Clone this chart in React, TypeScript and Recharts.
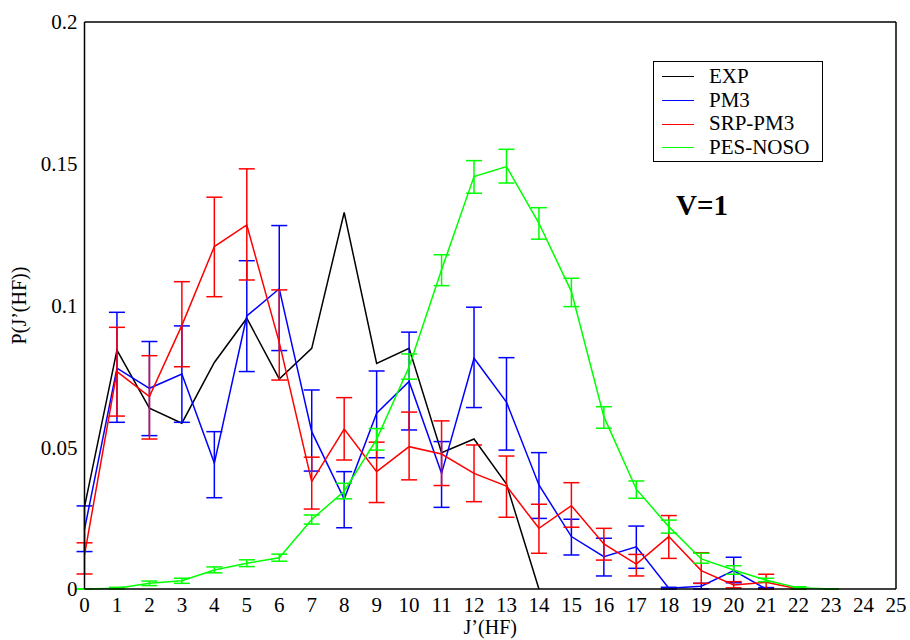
import React from 'react';
import { LineChart, Line, XAxis, YAxis, ErrorBar, ReferenceLine } from 'recharts';

// J'(HF) rotational levels
const J = [0, 1, 2, 3, 4, 5, 6, 7, 8, 9, 10, 11, 12, 13, 14, 15, 16, 17, 18, 19, 20, 21, 22, 23, 24, 25];
const Y_TICKS = [0, 0.05, 0.1, 0.15, 0.2];

const EXP = [0.029, 0.0843, 0.0638, 0.0585, 0.0799, 0.0955, 0.0741, 0.0849, 0.1328, 0.0796, 0.0849, 0.0481, 0.0529, 0.037, 0];

const PM3 = [0.021, 0.0779, 0.0708, 0.0758, 0.0444, 0.0963, 0.1059, 0.0555, 0.0317, 0.062, 0.0732, 0.0408, 0.0814, 0.0659, 0.0367, 0.0185, 0.0114, 0.0149, 0.0003, 0.001, 0.0065, 0];
const PM3_LO = [0.0132, 0.0588, 0.0541, 0.0588, 0.0322, 0.0767, 0.0841, 0.0416, 0.0216, 0.0463, 0.0561, 0.0288, 0.064, 0.049, 0.0249, 0.012, 0.0046, 0.0073, 0, 0, 0.0022, 0];
const PM3_HI = [0.0293, 0.0976, 0.0873, 0.0928, 0.0555, 0.1158, 0.1282, 0.0702, 0.0414, 0.0769, 0.0906, 0.052, 0.0994, 0.0816, 0.0481, 0.0246, 0.0179, 0.0222, 0.0006, 0.002, 0.0112, 0.0005];

const SRP = [0.012, 0.0767, 0.0679, 0.093, 0.1208, 0.1284, 0.087, 0.0379, 0.0564, 0.0414, 0.0502, 0.0476, 0.0408, 0.0363, 0.0214, 0.0294, 0.0159, 0.0088, 0.0185, 0.0065, 0.0014, 0.0024, 0];
const SRP_LO = [0.0053, 0.061, 0.0529, 0.0784, 0.1031, 0.109, 0.0737, 0.0282, 0.0455, 0.0305, 0.0385, 0.0365, 0.0308, 0.0253, 0.0126, 0.0218, 0.0102, 0.0046, 0.0108, 0.002, 0.0004, 0, 0];
const SRP_HI = [0.0163, 0.0923, 0.0823, 0.1084, 0.1382, 0.1482, 0.1055, 0.0465, 0.0675, 0.0518, 0.0624, 0.0593, 0.0508, 0.0469, 0.0299, 0.0375, 0.0214, 0.0122, 0.0259, 0.0128, 0.0026, 0.0052, 0];

const NOSO = [0, 0.0003, 0.002, 0.0029, 0.0067, 0.0091, 0.011, 0.0245, 0.0345, 0.0528, 0.0784, 0.1126, 0.1455, 0.149, 0.129, 0.1049, 0.0608, 0.0352, 0.022, 0.0106, 0.0067, 0.0031, 0.0004, 0];
const NOSO_LO = [0, 0, 0.0012, 0.002, 0.0057, 0.0079, 0.0098, 0.0229, 0.0318, 0.049, 0.074, 0.107, 0.1396, 0.1432, 0.1234, 0.0996, 0.0567, 0.032, 0.0197, 0.0091, 0.0052, 0.0026, 0, 0];
const NOSO_HI = [0, 0.0006, 0.0028, 0.0038, 0.0078, 0.0103, 0.0123, 0.0261, 0.0373, 0.0566, 0.0829, 0.1179, 0.1511, 0.1551, 0.1345, 0.1096, 0.0643, 0.0381, 0.0243, 0.0126, 0.0082, 0.0038, 0.0008, 0];

const FONT = '"Liberation Serif", "Times New Roman", serif';

const SERIES = [
  { name: 'EXP', color: '#000000' },
  { name: 'PM3', color: '#0000ff' },
  { name: 'SRP-PM3', color: '#ff0000' },
  { name: 'PES-NOSO', color: '#00ff00' },
];

const rows = (vals: number[], lo?: number[], hi?: number[]) =>
  vals.map((v, i) => ({
    x: J[i],
    y: v,
    err: lo && hi ? [Math.max(0, v - lo[i]), Math.max(0, hi[i] - v)] : undefined,
  }));

const expRows = rows(EXP);
const pm3Rows = rows(PM3, PM3_LO, PM3_HI);
const srpRows = rows(SRP, SRP_LO, SRP_HI);
const nosoRows = rows(NOSO, NOSO_LO, NOSO_HI);

const App: React.FC = () => {
  const axisStroke = { stroke: '#000', strokeWidth: 1.5 };
  return (
    <div style={{ position: 'absolute', left: 0, top: 0, width: 910, height: 640, background: '#fff', fontFamily: FONT }}>
      <LineChart width={910} height={640} margin={{ top: 22, right: 14, bottom: 0, left: 0 }}>
        <XAxis
          xAxisId="b"
          dataKey="x"
          type="number"
          domain={[0, 25]}
          ticks={J}
          interval={0}
          height={51}
          tickLine={false}
          tickSize={0}
          tickMargin={8}
          axisLine={axisStroke}
          tick={{ fill: '#000', fontSize: 21, fontFamily: FONT }}
          label={{ value: 'J’(HF)', position: 'insideBottom', offset: 6, fill: '#000', fontSize: 20, fontFamily: FONT }}
        />
        <XAxis
          xAxisId="m"
          type="number"
          domain={[0, 25]}
          ticks={J}
          interval={0}
          mirror
          tick={false}
          tickSize={15}
          axisLine={false}
          tickLine={axisStroke}
        />
        <YAxis
          yAxisId="l"
          type="number"
          domain={[0, 0.2]}
          ticks={Y_TICKS}
          interval={0}
          width={84.5}
          tickLine={false}
          tickSize={0}
          tickMargin={7}
          axisLine={axisStroke}
          tick={{ fill: '#000', fontSize: 21, fontFamily: FONT }}
          label={{ value: 'P(J’(HF))', angle: -90, position: 'insideLeft', offset: 19, fill: '#000', fontSize: 20, fontFamily: FONT, style: { textAnchor: 'middle' } }}
        />
        <YAxis
          yAxisId="m"
          type="number"
          domain={[0, 0.2]}
          ticks={Y_TICKS}
          interval={0}
          mirror
          tick={false}
          tickSize={16}
          axisLine={false}
          tickLine={axisStroke}
        />
        <ReferenceLine xAxisId="b" yAxisId="l" y={0.2} stroke="#000" strokeWidth={1.5} />
        <ReferenceLine xAxisId="b" yAxisId="l" x={25} stroke="#000" strokeWidth={1.5} />

        <Line data={expRows} dataKey="y" name="EXP" xAxisId="b" yAxisId="l" type="linear" stroke="#000000" strokeWidth={1.5} dot={false} isAnimationActive={false} />
        <Line data={pm3Rows} dataKey="y" name="PM3" xAxisId="b" yAxisId="l" type="linear" stroke="#0000ff" strokeWidth={1.5} dot={false} isAnimationActive={false}>
          <ErrorBar dataKey="err" direction="y" width={8} stroke="#0000ff" strokeWidth={1.5} isAnimationActive={false} />
        </Line>
        <Line data={srpRows} dataKey="y" name="SRP-PM3" xAxisId="b" yAxisId="l" type="linear" stroke="#ff0000" strokeWidth={1.5} dot={false} isAnimationActive={false}>
          <ErrorBar dataKey="err" direction="y" width={8} stroke="#ff0000" strokeWidth={1.5} isAnimationActive={false} />
        </Line>
        <Line data={nosoRows} dataKey="y" name="PES-NOSO" xAxisId="b" yAxisId="l" type="linear" stroke="#00ff00" strokeWidth={1.5} dot={false} isAnimationActive={false}>
          <ErrorBar dataKey="err" direction="y" width={8} stroke="#00ff00" strokeWidth={1.5} isAnimationActive={false} />
        </Line>
      </LineChart>

      <div
        style={{
          position: 'absolute',
          left: 653,
          top: 61,
          width: 170,
          height: 101,
          border: '1.5px solid #000',
          boxSizing: 'border-box',
          padding: '3px 0 0 0',
        }}
      >
        {SERIES.map((s) => (
          <div key={s.name} style={{ display: 'flex', alignItems: 'center', height: 23.7, fontSize: 21, lineHeight: '23.7px', color: '#000' }}>
            <span style={{ display: 'inline-block', width: 32, height: 0, borderTop: `1.5px solid ${s.color}`, marginLeft: 8, marginRight: 15 }} />
            <span>{s.name}</span>
          </div>
        ))}
      </div>

      <div style={{ position: 'absolute', left: 676, top: 189, fontSize: 29, fontWeight: 'bold', color: '#000', lineHeight: '32px' }}>V=1</div>
    </div>
  );
};

export default App;
